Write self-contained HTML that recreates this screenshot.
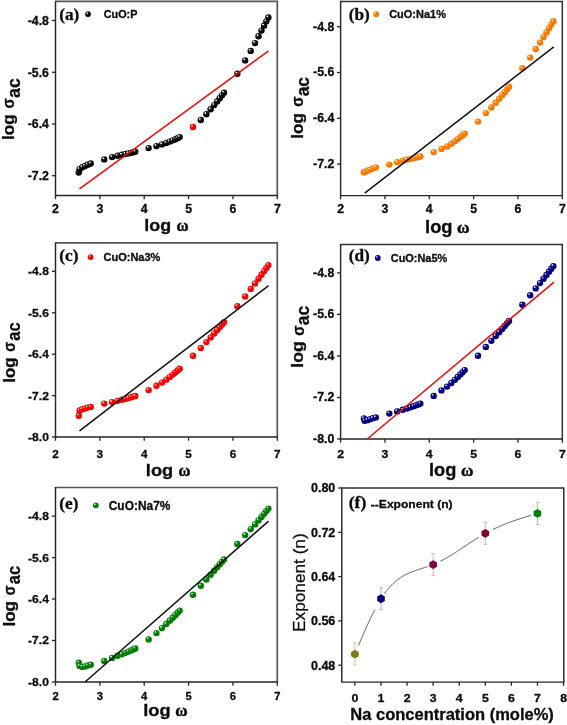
<!DOCTYPE html>
<html><head><meta charset="utf-8"><title>figure</title>
<style>
html,body{margin:0;padding:0;background:#fff;}
body{width:567px;height:725px;overflow:hidden;font-family:'Liberation Sans', sans-serif;}
svg{display:block;}
</style></head><body>
<svg width="567" height="725" viewBox="0 0 567 725">
<defs>
<filter id="soft" x="0" y="0" width="567" height="725" filterUnits="userSpaceOnUse" color-interpolation-filters="sRGB"><feGaussianBlur stdDeviation="0.38"/></filter>
<radialGradient id="gk" cx="0.36" cy="0.34" r="0.6" fx="0.34" fy="0.31"><stop offset="0" stop-color="#ffffff"/><stop offset="0.1" stop-color="#ffffff"/><stop offset="0.3" stop-color="#262626"/><stop offset="0.8" stop-color="#000000"/></radialGradient>
<radialGradient id="go" cx="0.36" cy="0.34" r="0.6" fx="0.34" fy="0.31"><stop offset="0" stop-color="#fff4e0"/><stop offset="0.1" stop-color="#fff4e0"/><stop offset="0.3" stop-color="#ff8408"/><stop offset="0.8" stop-color="#f87600"/></radialGradient>
<radialGradient id="gr" cx="0.36" cy="0.34" r="0.6" fx="0.34" fy="0.31"><stop offset="0" stop-color="#fff4f4"/><stop offset="0.1" stop-color="#fff4f4"/><stop offset="0.3" stop-color="#ff0c0c"/><stop offset="0.8" stop-color="#f40000"/></radialGradient>
<radialGradient id="gb" cx="0.36" cy="0.34" r="0.6" fx="0.34" fy="0.31"><stop offset="0" stop-color="#f0f0ff"/><stop offset="0.1" stop-color="#f0f0ff"/><stop offset="0.3" stop-color="#0a0a8c"/><stop offset="0.8" stop-color="#000078"/></radialGradient>
<radialGradient id="gg" cx="0.36" cy="0.34" r="0.6" fx="0.34" fy="0.31"><stop offset="0" stop-color="#f0fff0"/><stop offset="0.1" stop-color="#f0fff0"/><stop offset="0.3" stop-color="#0a8a0a"/><stop offset="0.8" stop-color="#007800"/></radialGradient>
</defs>
<rect width="567" height="725" fill="#fff"/>
<g filter="url(#soft)">
<path d="M55.5 1.4H277.3V195.5" fill="none" stroke="#565656" stroke-width="1.7"/>
<path d="M55.5 0.7999999999999999V195.5H278.0" fill="none" stroke="#262626" stroke-width="1.45"/>
<path d="M51.9 20.5H55.5" stroke="#262626" stroke-width="1.3"/>
<text transform="translate(48.90 24.90)" font-family="'Liberation Sans', sans-serif" font-weight="bold" font-size="12.3" text-anchor="end" fill="#0c0c0c" stroke="#0c0c0c" stroke-width="0.3" stroke-linejoin="round">-4.8</text>
<path d="M51.9 72.3H55.5" stroke="#262626" stroke-width="1.3"/>
<text transform="translate(48.90 76.70)" font-family="'Liberation Sans', sans-serif" font-weight="bold" font-size="12.3" text-anchor="end" fill="#0c0c0c" stroke="#0c0c0c" stroke-width="0.3" stroke-linejoin="round">-5.6</text>
<path d="M51.9 124.0H55.5" stroke="#262626" stroke-width="1.3"/>
<text transform="translate(48.90 128.40)" font-family="'Liberation Sans', sans-serif" font-weight="bold" font-size="12.3" text-anchor="end" fill="#0c0c0c" stroke="#0c0c0c" stroke-width="0.3" stroke-linejoin="round">-6.4</text>
<path d="M51.9 175.7H55.5" stroke="#262626" stroke-width="1.3"/>
<text transform="translate(48.90 180.10)" font-family="'Liberation Sans', sans-serif" font-weight="bold" font-size="12.3" text-anchor="end" fill="#0c0c0c" stroke="#0c0c0c" stroke-width="0.3" stroke-linejoin="round">-7.2</text>
<path d="M55.5 195.5V199.2" stroke="#262626" stroke-width="1.3"/>
<text transform="translate(55.50 212.70)" font-family="'Liberation Sans', sans-serif" font-weight="bold" font-size="12.3" text-anchor="middle" fill="#0c0c0c" stroke="#0c0c0c" stroke-width="0.3" stroke-linejoin="round">2</text>
<path d="M99.86 195.5V199.2" stroke="#262626" stroke-width="1.3"/>
<text transform="translate(99.86 212.70)" font-family="'Liberation Sans', sans-serif" font-weight="bold" font-size="12.3" text-anchor="middle" fill="#0c0c0c" stroke="#0c0c0c" stroke-width="0.3" stroke-linejoin="round">3</text>
<path d="M144.22 195.5V199.2" stroke="#262626" stroke-width="1.3"/>
<text transform="translate(144.22 212.70)" font-family="'Liberation Sans', sans-serif" font-weight="bold" font-size="12.3" text-anchor="middle" fill="#0c0c0c" stroke="#0c0c0c" stroke-width="0.3" stroke-linejoin="round">4</text>
<path d="M188.57999999999998 195.5V199.2" stroke="#262626" stroke-width="1.3"/>
<text transform="translate(188.58 212.70)" font-family="'Liberation Sans', sans-serif" font-weight="bold" font-size="12.3" text-anchor="middle" fill="#0c0c0c" stroke="#0c0c0c" stroke-width="0.3" stroke-linejoin="round">5</text>
<path d="M232.94 195.5V199.2" stroke="#262626" stroke-width="1.3"/>
<text transform="translate(232.94 212.70)" font-family="'Liberation Sans', sans-serif" font-weight="bold" font-size="12.3" text-anchor="middle" fill="#0c0c0c" stroke="#0c0c0c" stroke-width="0.3" stroke-linejoin="round">6</text>
<path d="M277.3 195.5V199.2" stroke="#262626" stroke-width="1.3"/>
<text transform="translate(277.30 212.70)" font-family="'Liberation Sans', sans-serif" font-weight="bold" font-size="12.3" text-anchor="middle" fill="#0c0c0c" stroke="#0c0c0c" stroke-width="0.3" stroke-linejoin="round">7</text>
<text transform="translate(144.27 230.90) scale(1.0648 1.0000)" font-family="'Liberation Sans', sans-serif" font-weight="bold" font-size="16.8" text-anchor="start" fill="#0c0c0c" stroke="#0c0c0c" stroke-width="0.3" stroke-linejoin="round">log</text>
<text transform="translate(176.54 231.10) scale(1.0054 1.0000)" font-family="'Liberation Serif', serif" font-weight="bold" font-size="16.5" text-anchor="start" fill="#0c0c0c" stroke="#0c0c0c" stroke-width="0.5" stroke-linejoin="round">ω</text>
<text transform="translate(13.50 139.99) rotate(-90) scale(1.0135 1.0000)" font-family="'Liberation Sans', sans-serif" font-weight="bold" font-size="17.0" text-anchor="start" fill="#0c0c0c" stroke="#0c0c0c" stroke-width="0.3" stroke-linejoin="round">log</text>
<text transform="translate(14.10 108.39) rotate(-90) scale(0.9197 1.0000)" font-family="'Liberation Sans', sans-serif" font-weight="bold" font-size="16.5" text-anchor="start" fill="#0c0c0c" stroke="#0c0c0c" stroke-width="0.3" stroke-linejoin="round">σ</text>
<text transform="translate(20.10 97.91) rotate(-90) scale(0.9288 1.0000)" font-family="'Liberation Sans', sans-serif" font-weight="bold" font-size="19.0" text-anchor="start" fill="#0c0c0c" stroke="#0c0c0c" stroke-width="0.3" stroke-linejoin="round">ac</text>
<circle cx="78.79" cy="172.50" r="3.2" fill="url(#gk)"/>
<circle cx="79.59" cy="169.20" r="3.2" fill="url(#gk)"/>
<circle cx="82.29" cy="167.30" r="3.2" fill="url(#gk)"/>
<circle cx="85.00" cy="166.00" r="3.2" fill="url(#gk)"/>
<circle cx="87.71" cy="164.70" r="3.2" fill="url(#gk)"/>
<circle cx="90.72" cy="163.50" r="3.2" fill="url(#gk)"/>
<circle cx="104.26" cy="159.40" r="3.2" fill="url(#gk)"/>
<circle cx="112.07" cy="157.10" r="3.2" fill="url(#gk)"/>
<circle cx="117.61" cy="155.75" r="3.2" fill="url(#gk)"/>
<circle cx="121.91" cy="154.80" r="3.2" fill="url(#gk)"/>
<circle cx="125.43" cy="154.04" r="3.2" fill="url(#gk)"/>
<circle cx="128.40" cy="153.40" r="3.2" fill="url(#gk)"/>
<circle cx="130.97" cy="152.83" r="3.2" fill="url(#gk)"/>
<circle cx="133.24" cy="152.30" r="3.2" fill="url(#gk)"/>
<circle cx="135.27" cy="151.80" r="3.2" fill="url(#gk)"/>
<circle cx="148.62" cy="148.10" r="3.2" fill="url(#gk)"/>
<circle cx="156.43" cy="146.10" r="3.2" fill="url(#gk)"/>
<circle cx="161.97" cy="144.38" r="3.2" fill="url(#gk)"/>
<circle cx="166.27" cy="142.91" r="3.2" fill="url(#gk)"/>
<circle cx="169.79" cy="141.59" r="3.2" fill="url(#gk)"/>
<circle cx="172.76" cy="140.37" r="3.2" fill="url(#gk)"/>
<circle cx="175.33" cy="139.23" r="3.2" fill="url(#gk)"/>
<circle cx="177.60" cy="138.14" r="3.2" fill="url(#gk)"/>
<circle cx="179.63" cy="137.10" r="3.2" fill="url(#gk)"/>
<circle cx="192.98" cy="127.00" r="3.2" fill="url(#gr)"/>
<circle cx="200.79" cy="120.00" r="3.2" fill="url(#gk)"/>
<circle cx="206.33" cy="114.18" r="3.2" fill="url(#gk)"/>
<circle cx="210.63" cy="109.30" r="3.2" fill="url(#gk)"/>
<circle cx="214.15" cy="105.12" r="3.2" fill="url(#gk)"/>
<circle cx="217.12" cy="101.46" r="3.2" fill="url(#gk)"/>
<circle cx="219.69" cy="98.23" r="3.2" fill="url(#gk)"/>
<circle cx="221.96" cy="95.33" r="3.2" fill="url(#gk)"/>
<circle cx="223.99" cy="92.70" r="3.2" fill="url(#gk)"/>
<circle cx="237.34" cy="73.70" r="3.2" fill="url(#gk)"/>
<circle cx="245.15" cy="60.40" r="3.2" fill="url(#gk)"/>
<circle cx="250.69" cy="50.90" r="3.2" fill="url(#gk)"/>
<circle cx="254.99" cy="43.10" r="3.2" fill="url(#gk)"/>
<circle cx="258.51" cy="36.30" r="3.2" fill="url(#gk)"/>
<circle cx="261.48" cy="30.59" r="3.2" fill="url(#gk)"/>
<circle cx="264.05" cy="25.67" r="3.2" fill="url(#gk)"/>
<circle cx="266.32" cy="21.35" r="3.2" fill="url(#gk)"/>
<circle cx="268.35" cy="17.50" r="3.2" fill="url(#gk)"/>
<path d="M79.5 188.9L268.5 50.8" stroke="#f80606" stroke-width="1.5" fill="none"/>
<text transform="translate(59.26 19.60) scale(1.0566 1.0000)" font-family="'Liberation Serif', serif" font-weight="bold" font-size="16.3" text-anchor="start" fill="#0c0c0c" stroke="#0c0c0c" stroke-width="0.3" stroke-linejoin="round">(a)</text>
<circle cx="88.0" cy="14.1" r="2.9" fill="url(#gk)"/>
<text transform="translate(103.76 18.20) scale(1.0128 1.0000)" font-family="'Liberation Sans', sans-serif" font-weight="bold" font-size="10.7" text-anchor="start" fill="#0c0c0c" stroke="#0c0c0c" stroke-width="0.3" stroke-linejoin="round">CuO:P</text>
<path d="M340.6 1.4H562.3V195.6" fill="none" stroke="#303030" stroke-width="1.5"/>
<path d="M340.6 0.7999999999999999V195.6H563.0" fill="none" stroke="#262626" stroke-width="1.45"/>
<path d="M337.00000000000006 26.7H340.6" stroke="#262626" stroke-width="1.3"/>
<text transform="translate(334.30 30.60)" font-family="'Liberation Sans', sans-serif" font-weight="bold" font-size="12.3" text-anchor="end" fill="#0c0c0c" stroke="#0c0c0c" stroke-width="0.3" stroke-linejoin="round">-4.8</text>
<path d="M337.00000000000006 72.5H340.6" stroke="#262626" stroke-width="1.3"/>
<text transform="translate(334.30 76.40)" font-family="'Liberation Sans', sans-serif" font-weight="bold" font-size="12.3" text-anchor="end" fill="#0c0c0c" stroke="#0c0c0c" stroke-width="0.3" stroke-linejoin="round">-5.6</text>
<path d="M337.00000000000006 118.3H340.6" stroke="#262626" stroke-width="1.3"/>
<text transform="translate(334.30 122.20)" font-family="'Liberation Sans', sans-serif" font-weight="bold" font-size="12.3" text-anchor="end" fill="#0c0c0c" stroke="#0c0c0c" stroke-width="0.3" stroke-linejoin="round">-6.4</text>
<path d="M337.00000000000006 164.1H340.6" stroke="#262626" stroke-width="1.3"/>
<text transform="translate(334.30 168.00)" font-family="'Liberation Sans', sans-serif" font-weight="bold" font-size="12.3" text-anchor="end" fill="#0c0c0c" stroke="#0c0c0c" stroke-width="0.3" stroke-linejoin="round">-7.2</text>
<path d="M340.6 195.6V199.29999999999998" stroke="#262626" stroke-width="1.3"/>
<text transform="translate(340.60 212.70)" font-family="'Liberation Sans', sans-serif" font-weight="bold" font-size="12.3" text-anchor="middle" fill="#0c0c0c" stroke="#0c0c0c" stroke-width="0.3" stroke-linejoin="round">2</text>
<path d="M384.94 195.6V199.29999999999998" stroke="#262626" stroke-width="1.3"/>
<text transform="translate(384.94 212.70)" font-family="'Liberation Sans', sans-serif" font-weight="bold" font-size="12.3" text-anchor="middle" fill="#0c0c0c" stroke="#0c0c0c" stroke-width="0.3" stroke-linejoin="round">3</text>
<path d="M429.28 195.6V199.29999999999998" stroke="#262626" stroke-width="1.3"/>
<text transform="translate(429.28 212.70)" font-family="'Liberation Sans', sans-serif" font-weight="bold" font-size="12.3" text-anchor="middle" fill="#0c0c0c" stroke="#0c0c0c" stroke-width="0.3" stroke-linejoin="round">4</text>
<path d="M473.62 195.6V199.29999999999998" stroke="#262626" stroke-width="1.3"/>
<text transform="translate(473.62 212.70)" font-family="'Liberation Sans', sans-serif" font-weight="bold" font-size="12.3" text-anchor="middle" fill="#0c0c0c" stroke="#0c0c0c" stroke-width="0.3" stroke-linejoin="round">5</text>
<path d="M517.96 195.6V199.29999999999998" stroke="#262626" stroke-width="1.3"/>
<text transform="translate(517.96 212.70)" font-family="'Liberation Sans', sans-serif" font-weight="bold" font-size="12.3" text-anchor="middle" fill="#0c0c0c" stroke="#0c0c0c" stroke-width="0.3" stroke-linejoin="round">6</text>
<path d="M562.3 195.6V199.29999999999998" stroke="#262626" stroke-width="1.3"/>
<text transform="translate(562.30 212.70)" font-family="'Liberation Sans', sans-serif" font-weight="bold" font-size="12.3" text-anchor="middle" fill="#0c0c0c" stroke="#0c0c0c" stroke-width="0.3" stroke-linejoin="round">7</text>
<text transform="translate(425.04 232.80) scale(1.0414 1.0000)" font-family="'Liberation Sans', sans-serif" font-weight="bold" font-size="17.6" text-anchor="start" fill="#0c0c0c" stroke="#0c0c0c" stroke-width="0.3" stroke-linejoin="round">log</text>
<text transform="translate(457.11 233.00) scale(1.0427 1.0000)" font-family="'Liberation Serif', serif" font-weight="bold" font-size="16.5" text-anchor="start" fill="#0c0c0c" stroke="#0c0c0c" stroke-width="0.5" stroke-linejoin="round">ω</text>
<text transform="translate(302.80 138.79) rotate(-90) scale(1.0017 1.0000)" font-family="'Liberation Sans', sans-serif" font-weight="bold" font-size="17.2" text-anchor="start" fill="#0c0c0c" stroke="#0c0c0c" stroke-width="0.3" stroke-linejoin="round">log</text>
<text transform="translate(303.20 106.79) rotate(-90) scale(0.9197 1.0000)" font-family="'Liberation Sans', sans-serif" font-weight="bold" font-size="16.5" text-anchor="start" fill="#0c0c0c" stroke="#0c0c0c" stroke-width="0.3" stroke-linejoin="round">σ</text>
<text transform="translate(308.90 96.30) rotate(-90) scale(0.9385 1.0000)" font-family="'Liberation Sans', sans-serif" font-weight="bold" font-size="18.5" text-anchor="start" fill="#0c0c0c" stroke="#0c0c0c" stroke-width="0.3" stroke-linejoin="round">ac</text>
<circle cx="363.88" cy="172.40" r="3.2" fill="url(#go)"/>
<circle cx="364.68" cy="171.90" r="3.2" fill="url(#go)"/>
<circle cx="367.38" cy="170.70" r="3.2" fill="url(#go)"/>
<circle cx="370.09" cy="169.60" r="3.2" fill="url(#go)"/>
<circle cx="372.79" cy="168.50" r="3.2" fill="url(#go)"/>
<circle cx="375.81" cy="167.40" r="3.2" fill="url(#go)"/>
<circle cx="389.34" cy="164.60" r="3.2" fill="url(#go)"/>
<circle cx="397.15" cy="162.10" r="3.2" fill="url(#go)"/>
<circle cx="402.69" cy="160.65" r="3.2" fill="url(#go)"/>
<circle cx="406.98" cy="159.64" r="3.2" fill="url(#go)"/>
<circle cx="410.49" cy="158.84" r="3.2" fill="url(#go)"/>
<circle cx="413.46" cy="158.16" r="3.2" fill="url(#go)"/>
<circle cx="416.03" cy="157.54" r="3.2" fill="url(#go)"/>
<circle cx="418.30" cy="156.95" r="3.2" fill="url(#go)"/>
<circle cx="420.33" cy="156.40" r="3.2" fill="url(#go)"/>
<circle cx="433.68" cy="152.10" r="3.2" fill="url(#go)"/>
<circle cx="441.49" cy="148.90" r="3.2" fill="url(#go)"/>
<circle cx="447.03" cy="146.40" r="3.2" fill="url(#go)"/>
<circle cx="451.32" cy="143.82" r="3.2" fill="url(#go)"/>
<circle cx="454.83" cy="141.36" r="3.2" fill="url(#go)"/>
<circle cx="457.80" cy="139.10" r="3.2" fill="url(#go)"/>
<circle cx="460.37" cy="137.07" r="3.2" fill="url(#go)"/>
<circle cx="462.64" cy="135.24" r="3.2" fill="url(#go)"/>
<circle cx="464.67" cy="133.60" r="3.2" fill="url(#go)"/>
<circle cx="478.02" cy="121.60" r="3.2" fill="url(#go)"/>
<circle cx="485.83" cy="113.10" r="3.2" fill="url(#go)"/>
<circle cx="491.37" cy="107.50" r="3.2" fill="url(#go)"/>
<circle cx="495.66" cy="102.79" r="3.2" fill="url(#go)"/>
<circle cx="499.17" cy="98.79" r="3.2" fill="url(#go)"/>
<circle cx="502.14" cy="95.29" r="3.2" fill="url(#go)"/>
<circle cx="504.71" cy="92.18" r="3.2" fill="url(#go)"/>
<circle cx="506.98" cy="89.37" r="3.2" fill="url(#go)"/>
<circle cx="509.01" cy="86.80" r="3.2" fill="url(#go)"/>
<circle cx="522.36" cy="68.20" r="3.2" fill="url(#go)"/>
<circle cx="530.17" cy="57.60" r="3.2" fill="url(#go)"/>
<circle cx="535.71" cy="48.90" r="3.2" fill="url(#go)"/>
<circle cx="540.00" cy="42.60" r="3.2" fill="url(#go)"/>
<circle cx="543.51" cy="37.10" r="3.2" fill="url(#go)"/>
<circle cx="546.48" cy="32.38" r="3.2" fill="url(#go)"/>
<circle cx="549.05" cy="28.27" r="3.2" fill="url(#go)"/>
<circle cx="551.32" cy="24.60" r="3.2" fill="url(#go)"/>
<circle cx="553.35" cy="21.30" r="3.2" fill="url(#go)"/>
<path d="M364.7 193.2L553.8 46.9" stroke="#111111" stroke-width="1.5" fill="none"/>
<text transform="translate(348.76 19.50) scale(1.0585 1.0000)" font-family="'Liberation Serif', serif" font-weight="bold" font-size="16.3" text-anchor="start" fill="#0c0c0c" stroke="#0c0c0c" stroke-width="0.3" stroke-linejoin="round">(b)</text>
<circle cx="376.2" cy="14.2" r="2.9" fill="url(#go)"/>
<text transform="translate(389.15 17.90) scale(1.0185 1.0000)" font-family="'Liberation Sans', sans-serif" font-weight="bold" font-size="10.8" text-anchor="start" fill="#0c0c0c" stroke="#0c0c0c" stroke-width="0.3" stroke-linejoin="round">CuO:Na1%</text>
<path d="M55.5 242.9H277.3V437.0" fill="none" stroke="#565656" stroke-width="1.7"/>
<path d="M55.5 242.3V437.0H278.0" fill="none" stroke="#262626" stroke-width="1.45"/>
<path d="M51.9 271.3H55.5" stroke="#262626" stroke-width="1.3"/>
<text transform="translate(48.90 275.29) scale(1.0000 0.9200)" font-family="'Liberation Sans', sans-serif" font-weight="bold" font-size="12.1" text-anchor="end" fill="#0c0c0c" stroke="#0c0c0c" stroke-width="0.3" stroke-linejoin="round">-4.8</text>
<path d="M51.9 312.8H55.5" stroke="#262626" stroke-width="1.3"/>
<text transform="translate(48.90 316.79) scale(1.0000 0.9200)" font-family="'Liberation Sans', sans-serif" font-weight="bold" font-size="12.1" text-anchor="end" fill="#0c0c0c" stroke="#0c0c0c" stroke-width="0.3" stroke-linejoin="round">-5.6</text>
<path d="M51.9 354.2H55.5" stroke="#262626" stroke-width="1.3"/>
<text transform="translate(48.90 358.19) scale(1.0000 0.9200)" font-family="'Liberation Sans', sans-serif" font-weight="bold" font-size="12.1" text-anchor="end" fill="#0c0c0c" stroke="#0c0c0c" stroke-width="0.3" stroke-linejoin="round">-6.4</text>
<path d="M51.9 395.6H55.5" stroke="#262626" stroke-width="1.3"/>
<text transform="translate(48.90 399.59) scale(1.0000 0.9200)" font-family="'Liberation Sans', sans-serif" font-weight="bold" font-size="12.1" text-anchor="end" fill="#0c0c0c" stroke="#0c0c0c" stroke-width="0.3" stroke-linejoin="round">-7.2</text>
<path d="M51.9 437.0H55.5" stroke="#262626" stroke-width="1.3"/>
<text transform="translate(48.90 440.99) scale(1.0000 0.9200)" font-family="'Liberation Sans', sans-serif" font-weight="bold" font-size="12.1" text-anchor="end" fill="#0c0c0c" stroke="#0c0c0c" stroke-width="0.3" stroke-linejoin="round">-8.0</text>
<path d="M55.5 437.0V440.7" stroke="#262626" stroke-width="1.3"/>
<text transform="translate(55.50 458.00) scale(1.0000 0.9500)" font-family="'Liberation Sans', sans-serif" font-weight="bold" font-size="11.7" text-anchor="middle" fill="#0c0c0c" stroke="#0c0c0c" stroke-width="0.3" stroke-linejoin="round">2</text>
<path d="M99.86 437.0V440.7" stroke="#262626" stroke-width="1.3"/>
<text transform="translate(99.86 458.00) scale(1.0000 0.9500)" font-family="'Liberation Sans', sans-serif" font-weight="bold" font-size="11.7" text-anchor="middle" fill="#0c0c0c" stroke="#0c0c0c" stroke-width="0.3" stroke-linejoin="round">3</text>
<path d="M144.22 437.0V440.7" stroke="#262626" stroke-width="1.3"/>
<text transform="translate(144.22 458.00) scale(1.0000 0.9500)" font-family="'Liberation Sans', sans-serif" font-weight="bold" font-size="11.7" text-anchor="middle" fill="#0c0c0c" stroke="#0c0c0c" stroke-width="0.3" stroke-linejoin="round">4</text>
<path d="M188.57999999999998 437.0V440.7" stroke="#262626" stroke-width="1.3"/>
<text transform="translate(188.58 458.00) scale(1.0000 0.9500)" font-family="'Liberation Sans', sans-serif" font-weight="bold" font-size="11.7" text-anchor="middle" fill="#0c0c0c" stroke="#0c0c0c" stroke-width="0.3" stroke-linejoin="round">5</text>
<path d="M232.94 437.0V440.7" stroke="#262626" stroke-width="1.3"/>
<text transform="translate(232.94 458.00) scale(1.0000 0.9500)" font-family="'Liberation Sans', sans-serif" font-weight="bold" font-size="11.7" text-anchor="middle" fill="#0c0c0c" stroke="#0c0c0c" stroke-width="0.3" stroke-linejoin="round">6</text>
<path d="M277.3 437.0V440.7" stroke="#262626" stroke-width="1.3"/>
<text transform="translate(277.30 458.00) scale(1.0000 0.9500)" font-family="'Liberation Sans', sans-serif" font-weight="bold" font-size="11.7" text-anchor="middle" fill="#0c0c0c" stroke="#0c0c0c" stroke-width="0.3" stroke-linejoin="round">7</text>
<text transform="translate(145.84 475.60) scale(1.0676 1.0000)" font-family="'Liberation Sans', sans-serif" font-weight="bold" font-size="17.1" text-anchor="start" fill="#0c0c0c" stroke="#0c0c0c" stroke-width="0.3" stroke-linejoin="round">log</text>
<text transform="translate(178.44 475.70) scale(0.9961 1.0000)" font-family="'Liberation Serif', serif" font-weight="bold" font-size="16.5" text-anchor="start" fill="#0c0c0c" stroke="#0c0c0c" stroke-width="0.5" stroke-linejoin="round">ω</text>
<text transform="translate(14.50 382.77) rotate(-90) scale(0.9962 1.0000)" font-family="'Liberation Sans', sans-serif" font-weight="bold" font-size="17.0" text-anchor="start" fill="#0c0c0c" stroke="#0c0c0c" stroke-width="0.3" stroke-linejoin="round">log</text>
<text transform="translate(15.00 351.66) rotate(-90) scale(0.8986 1.0000)" font-family="'Liberation Sans', sans-serif" font-weight="bold" font-size="16.0" text-anchor="start" fill="#0c0c0c" stroke="#0c0c0c" stroke-width="0.3" stroke-linejoin="round">σ</text>
<text transform="translate(20.20 340.78) rotate(-90) scale(0.9021 1.0000)" font-family="'Liberation Sans', sans-serif" font-weight="bold" font-size="18.3" text-anchor="start" fill="#0c0c0c" stroke="#0c0c0c" stroke-width="0.3" stroke-linejoin="round">ac</text>
<circle cx="78.79" cy="415.70" r="3.2" fill="url(#gr)"/>
<circle cx="79.59" cy="410.50" r="3.2" fill="url(#gr)"/>
<circle cx="82.29" cy="409.30" r="3.2" fill="url(#gr)"/>
<circle cx="85.00" cy="408.40" r="3.2" fill="url(#gr)"/>
<circle cx="87.71" cy="407.60" r="3.2" fill="url(#gr)"/>
<circle cx="90.72" cy="406.90" r="3.2" fill="url(#gr)"/>
<circle cx="104.26" cy="403.60" r="3.2" fill="url(#gr)"/>
<circle cx="112.07" cy="402.10" r="3.2" fill="url(#gr)"/>
<circle cx="117.61" cy="400.85" r="3.2" fill="url(#gr)"/>
<circle cx="121.91" cy="399.80" r="3.2" fill="url(#gr)"/>
<circle cx="125.43" cy="398.88" r="3.2" fill="url(#gr)"/>
<circle cx="128.40" cy="398.05" r="3.2" fill="url(#gr)"/>
<circle cx="130.97" cy="397.28" r="3.2" fill="url(#gr)"/>
<circle cx="133.24" cy="396.57" r="3.2" fill="url(#gr)"/>
<circle cx="135.27" cy="395.90" r="3.2" fill="url(#gr)"/>
<circle cx="148.62" cy="390.10" r="3.2" fill="url(#gr)"/>
<circle cx="156.43" cy="385.80" r="3.2" fill="url(#gr)"/>
<circle cx="161.97" cy="382.60" r="3.2" fill="url(#gr)"/>
<circle cx="166.27" cy="379.64" r="3.2" fill="url(#gr)"/>
<circle cx="169.79" cy="376.99" r="3.2" fill="url(#gr)"/>
<circle cx="172.76" cy="374.62" r="3.2" fill="url(#gr)"/>
<circle cx="175.33" cy="372.49" r="3.2" fill="url(#gr)"/>
<circle cx="177.60" cy="370.56" r="3.2" fill="url(#gr)"/>
<circle cx="179.63" cy="368.80" r="3.2" fill="url(#gr)"/>
<circle cx="192.98" cy="355.80" r="3.2" fill="url(#gr)"/>
<circle cx="200.79" cy="348.00" r="3.2" fill="url(#gr)"/>
<circle cx="206.33" cy="342.10" r="3.2" fill="url(#gr)"/>
<circle cx="210.63" cy="337.39" r="3.2" fill="url(#gr)"/>
<circle cx="214.15" cy="333.46" r="3.2" fill="url(#gr)"/>
<circle cx="217.12" cy="330.10" r="3.2" fill="url(#gr)"/>
<circle cx="219.69" cy="327.16" r="3.2" fill="url(#gr)"/>
<circle cx="221.96" cy="324.55" r="3.2" fill="url(#gr)"/>
<circle cx="223.99" cy="322.20" r="3.2" fill="url(#gr)"/>
<circle cx="237.34" cy="306.20" r="3.2" fill="url(#gr)"/>
<circle cx="245.15" cy="296.40" r="3.2" fill="url(#gr)"/>
<circle cx="250.69" cy="288.90" r="3.2" fill="url(#gr)"/>
<circle cx="254.99" cy="283.40" r="3.2" fill="url(#gr)"/>
<circle cx="258.51" cy="278.74" r="3.2" fill="url(#gr)"/>
<circle cx="261.48" cy="274.72" r="3.2" fill="url(#gr)"/>
<circle cx="264.05" cy="271.18" r="3.2" fill="url(#gr)"/>
<circle cx="266.32" cy="268.00" r="3.2" fill="url(#gr)"/>
<circle cx="268.35" cy="265.10" r="3.2" fill="url(#gr)"/>
<path d="M79.5 430.9L268.6 285.6" stroke="#111111" stroke-width="1.5" fill="none"/>
<text transform="translate(59.26 261.10) scale(1.0604 1.0000)" font-family="'Liberation Serif', serif" font-weight="bold" font-size="16.3" text-anchor="start" fill="#0c0c0c" stroke="#0c0c0c" stroke-width="0.3" stroke-linejoin="round">(c)</text>
<circle cx="90.6" cy="257.1" r="2.9" fill="url(#gr)"/>
<text transform="translate(103.45 261.00) scale(1.0221 1.0000)" font-family="'Liberation Sans', sans-serif" font-weight="bold" font-size="10.8" text-anchor="start" fill="#0c0c0c" stroke="#0c0c0c" stroke-width="0.3" stroke-linejoin="round">CuO:Na3%</text>
<path d="M340.6 244.5H562.3V439.0" fill="none" stroke="#303030" stroke-width="1.5"/>
<path d="M340.6 243.9V439.0H563.0" fill="none" stroke="#262626" stroke-width="1.45"/>
<path d="M337.00000000000006 272.9H340.6" stroke="#262626" stroke-width="1.3"/>
<text transform="translate(334.30 276.80)" font-family="'Liberation Sans', sans-serif" font-weight="bold" font-size="12.3" text-anchor="end" fill="#0c0c0c" stroke="#0c0c0c" stroke-width="0.3" stroke-linejoin="round">-4.8</text>
<path d="M337.00000000000006 314.4H340.6" stroke="#262626" stroke-width="1.3"/>
<text transform="translate(334.30 318.30)" font-family="'Liberation Sans', sans-serif" font-weight="bold" font-size="12.3" text-anchor="end" fill="#0c0c0c" stroke="#0c0c0c" stroke-width="0.3" stroke-linejoin="round">-5.6</text>
<path d="M337.00000000000006 356.0H340.6" stroke="#262626" stroke-width="1.3"/>
<text transform="translate(334.30 359.90)" font-family="'Liberation Sans', sans-serif" font-weight="bold" font-size="12.3" text-anchor="end" fill="#0c0c0c" stroke="#0c0c0c" stroke-width="0.3" stroke-linejoin="round">-6.4</text>
<path d="M337.00000000000006 397.5H340.6" stroke="#262626" stroke-width="1.3"/>
<text transform="translate(334.30 401.40)" font-family="'Liberation Sans', sans-serif" font-weight="bold" font-size="12.3" text-anchor="end" fill="#0c0c0c" stroke="#0c0c0c" stroke-width="0.3" stroke-linejoin="round">-7.2</text>
<path d="M337.00000000000006 439.0H340.6" stroke="#262626" stroke-width="1.3"/>
<text transform="translate(334.30 442.90)" font-family="'Liberation Sans', sans-serif" font-weight="bold" font-size="12.3" text-anchor="end" fill="#0c0c0c" stroke="#0c0c0c" stroke-width="0.3" stroke-linejoin="round">-8.0</text>
<path d="M340.6 439.0V442.7" stroke="#262626" stroke-width="1.3"/>
<text transform="translate(340.60 458.00) scale(1.0000 0.9600)" font-family="'Liberation Sans', sans-serif" font-weight="bold" font-size="12.3" text-anchor="middle" fill="#0c0c0c" stroke="#0c0c0c" stroke-width="0.3" stroke-linejoin="round">2</text>
<path d="M384.94 439.0V442.7" stroke="#262626" stroke-width="1.3"/>
<text transform="translate(384.94 458.00) scale(1.0000 0.9600)" font-family="'Liberation Sans', sans-serif" font-weight="bold" font-size="12.3" text-anchor="middle" fill="#0c0c0c" stroke="#0c0c0c" stroke-width="0.3" stroke-linejoin="round">3</text>
<path d="M429.28 439.0V442.7" stroke="#262626" stroke-width="1.3"/>
<text transform="translate(429.28 458.00) scale(1.0000 0.9600)" font-family="'Liberation Sans', sans-serif" font-weight="bold" font-size="12.3" text-anchor="middle" fill="#0c0c0c" stroke="#0c0c0c" stroke-width="0.3" stroke-linejoin="round">4</text>
<path d="M473.62 439.0V442.7" stroke="#262626" stroke-width="1.3"/>
<text transform="translate(473.62 458.00) scale(1.0000 0.9600)" font-family="'Liberation Sans', sans-serif" font-weight="bold" font-size="12.3" text-anchor="middle" fill="#0c0c0c" stroke="#0c0c0c" stroke-width="0.3" stroke-linejoin="round">5</text>
<path d="M517.96 439.0V442.7" stroke="#262626" stroke-width="1.3"/>
<text transform="translate(517.96 458.00) scale(1.0000 0.9600)" font-family="'Liberation Sans', sans-serif" font-weight="bold" font-size="12.3" text-anchor="middle" fill="#0c0c0c" stroke="#0c0c0c" stroke-width="0.3" stroke-linejoin="round">6</text>
<path d="M562.3 439.0V442.7" stroke="#262626" stroke-width="1.3"/>
<text transform="translate(562.30 458.00) scale(1.0000 0.9600)" font-family="'Liberation Sans', sans-serif" font-weight="bold" font-size="12.3" text-anchor="middle" fill="#0c0c0c" stroke="#0c0c0c" stroke-width="0.3" stroke-linejoin="round">7</text>
<text transform="translate(429.04 476.10) scale(1.0432 1.0000)" font-family="'Liberation Sans', sans-serif" font-weight="bold" font-size="17.5" text-anchor="start" fill="#0c0c0c" stroke="#0c0c0c" stroke-width="0.3" stroke-linejoin="round">log</text>
<text transform="translate(461.02 476.40) scale(1.0241 1.0000)" font-family="'Liberation Serif', serif" font-weight="bold" font-size="16.5" text-anchor="start" fill="#0c0c0c" stroke="#0c0c0c" stroke-width="0.5" stroke-linejoin="round">ω</text>
<text transform="translate(302.80 367.71) rotate(-90) scale(1.0230 1.0000)" font-family="'Liberation Sans', sans-serif" font-weight="bold" font-size="17.2" text-anchor="start" fill="#0c0c0c" stroke="#0c0c0c" stroke-width="0.3" stroke-linejoin="round">log</text>
<text transform="translate(303.70 335.69) rotate(-90) scale(0.9101 1.0000)" font-family="'Liberation Sans', sans-serif" font-weight="bold" font-size="16.5" text-anchor="start" fill="#0c0c0c" stroke="#0c0c0c" stroke-width="0.3" stroke-linejoin="round">σ</text>
<text transform="translate(309.30 325.31) rotate(-90) scale(0.9436 1.0000)" font-family="'Liberation Sans', sans-serif" font-weight="bold" font-size="18.5" text-anchor="start" fill="#0c0c0c" stroke="#0c0c0c" stroke-width="0.3" stroke-linejoin="round">ac</text>
<circle cx="363.88" cy="418.40" r="3.2" fill="url(#gb)"/>
<circle cx="364.68" cy="420.70" r="3.2" fill="url(#gb)"/>
<circle cx="367.38" cy="420.17" r="3.2" fill="url(#gb)"/>
<circle cx="370.09" cy="419.16" r="3.2" fill="url(#gb)"/>
<circle cx="372.79" cy="418.16" r="3.2" fill="url(#gb)"/>
<circle cx="375.81" cy="417.40" r="3.2" fill="url(#gb)"/>
<circle cx="389.34" cy="413.60" r="3.2" fill="url(#gb)"/>
<circle cx="397.15" cy="411.40" r="3.2" fill="url(#gb)"/>
<circle cx="402.69" cy="409.75" r="3.2" fill="url(#gb)"/>
<circle cx="406.98" cy="408.44" r="3.2" fill="url(#gb)"/>
<circle cx="410.49" cy="407.31" r="3.2" fill="url(#gb)"/>
<circle cx="413.46" cy="406.30" r="3.2" fill="url(#gb)"/>
<circle cx="416.03" cy="405.35" r="3.2" fill="url(#gb)"/>
<circle cx="418.30" cy="404.46" r="3.2" fill="url(#gb)"/>
<circle cx="420.33" cy="403.60" r="3.2" fill="url(#gb)"/>
<circle cx="433.68" cy="395.90" r="3.2" fill="url(#gb)"/>
<circle cx="441.49" cy="390.40" r="3.2" fill="url(#gb)"/>
<circle cx="447.03" cy="386.60" r="3.2" fill="url(#gb)"/>
<circle cx="451.32" cy="383.04" r="3.2" fill="url(#gb)"/>
<circle cx="454.83" cy="379.83" r="3.2" fill="url(#gb)"/>
<circle cx="457.80" cy="376.96" r="3.2" fill="url(#gb)"/>
<circle cx="460.37" cy="374.41" r="3.2" fill="url(#gb)"/>
<circle cx="462.64" cy="372.14" r="3.2" fill="url(#gb)"/>
<circle cx="464.67" cy="370.10" r="3.2" fill="url(#gb)"/>
<circle cx="478.02" cy="355.80" r="3.2" fill="url(#gb)"/>
<circle cx="485.83" cy="347.00" r="3.2" fill="url(#gb)"/>
<circle cx="491.37" cy="340.83" r="3.2" fill="url(#gb)"/>
<circle cx="495.66" cy="336.08" r="3.2" fill="url(#gb)"/>
<circle cx="499.17" cy="332.19" r="3.2" fill="url(#gb)"/>
<circle cx="502.14" cy="328.88" r="3.2" fill="url(#gb)"/>
<circle cx="504.71" cy="325.97" r="3.2" fill="url(#gb)"/>
<circle cx="506.98" cy="323.36" r="3.2" fill="url(#gb)"/>
<circle cx="509.01" cy="321.00" r="3.2" fill="url(#gb)"/>
<circle cx="522.36" cy="304.70" r="3.2" fill="url(#gb)"/>
<circle cx="530.17" cy="295.20" r="3.2" fill="url(#gb)"/>
<circle cx="535.71" cy="288.40" r="3.2" fill="url(#gb)"/>
<circle cx="540.00" cy="283.10" r="3.2" fill="url(#gb)"/>
<circle cx="543.51" cy="278.69" r="3.2" fill="url(#gb)"/>
<circle cx="546.48" cy="274.94" r="3.2" fill="url(#gb)"/>
<circle cx="549.05" cy="271.66" r="3.2" fill="url(#gb)"/>
<circle cx="551.32" cy="268.73" r="3.2" fill="url(#gb)"/>
<circle cx="553.35" cy="266.10" r="3.2" fill="url(#gb)"/>
<path d="M367.2 439.0L554.0 282.1" stroke="#f80606" stroke-width="1.5" fill="none"/>
<text transform="translate(348.76 260.70) scale(1.0585 1.0000)" font-family="'Liberation Serif', serif" font-weight="bold" font-size="16.3" text-anchor="start" fill="#0c0c0c" stroke="#0c0c0c" stroke-width="0.3" stroke-linejoin="round">(d)</text>
<circle cx="377.8" cy="258.0" r="2.9" fill="url(#gb)"/>
<text transform="translate(390.75 261.70) scale(1.0131 1.0000)" font-family="'Liberation Sans', sans-serif" font-weight="bold" font-size="10.8" text-anchor="start" fill="#0c0c0c" stroke="#0c0c0c" stroke-width="0.3" stroke-linejoin="round">CuO:Na5%</text>
<path d="M55.5 487.5H277.3V682.0" fill="none" stroke="#565656" stroke-width="1.7"/>
<path d="M55.5 486.9V682.0H278.0" fill="none" stroke="#262626" stroke-width="1.45"/>
<path d="M51.9 516.1H55.5" stroke="#262626" stroke-width="1.3"/>
<text transform="translate(48.90 520.09) scale(1.0000 0.9200)" font-family="'Liberation Sans', sans-serif" font-weight="bold" font-size="12.1" text-anchor="end" fill="#0c0c0c" stroke="#0c0c0c" stroke-width="0.3" stroke-linejoin="round">-4.8</text>
<path d="M51.9 557.6H55.5" stroke="#262626" stroke-width="1.3"/>
<text transform="translate(48.90 561.59) scale(1.0000 0.9200)" font-family="'Liberation Sans', sans-serif" font-weight="bold" font-size="12.1" text-anchor="end" fill="#0c0c0c" stroke="#0c0c0c" stroke-width="0.3" stroke-linejoin="round">-5.6</text>
<path d="M51.9 599.0H55.5" stroke="#262626" stroke-width="1.3"/>
<text transform="translate(48.90 602.99) scale(1.0000 0.9200)" font-family="'Liberation Sans', sans-serif" font-weight="bold" font-size="12.1" text-anchor="end" fill="#0c0c0c" stroke="#0c0c0c" stroke-width="0.3" stroke-linejoin="round">-6.4</text>
<path d="M51.9 640.5H55.5" stroke="#262626" stroke-width="1.3"/>
<text transform="translate(48.90 644.49) scale(1.0000 0.9200)" font-family="'Liberation Sans', sans-serif" font-weight="bold" font-size="12.1" text-anchor="end" fill="#0c0c0c" stroke="#0c0c0c" stroke-width="0.3" stroke-linejoin="round">-7.2</text>
<path d="M51.9 682.0H55.5" stroke="#262626" stroke-width="1.3"/>
<text transform="translate(48.90 685.99) scale(1.0000 0.9200)" font-family="'Liberation Sans', sans-serif" font-weight="bold" font-size="12.1" text-anchor="end" fill="#0c0c0c" stroke="#0c0c0c" stroke-width="0.3" stroke-linejoin="round">-8.0</text>
<path d="M55.5 682.0V685.7" stroke="#262626" stroke-width="1.3"/>
<text transform="translate(55.50 699.60) scale(1.0000 0.9800)" font-family="'Liberation Sans', sans-serif" font-weight="bold" font-size="11.2" text-anchor="middle" fill="#0c0c0c" stroke="#0c0c0c" stroke-width="0.3" stroke-linejoin="round">2</text>
<path d="M99.86 682.0V685.7" stroke="#262626" stroke-width="1.3"/>
<text transform="translate(99.86 699.60) scale(1.0000 0.9800)" font-family="'Liberation Sans', sans-serif" font-weight="bold" font-size="11.2" text-anchor="middle" fill="#0c0c0c" stroke="#0c0c0c" stroke-width="0.3" stroke-linejoin="round">3</text>
<path d="M144.22 682.0V685.7" stroke="#262626" stroke-width="1.3"/>
<text transform="translate(144.22 699.60) scale(1.0000 0.9800)" font-family="'Liberation Sans', sans-serif" font-weight="bold" font-size="11.2" text-anchor="middle" fill="#0c0c0c" stroke="#0c0c0c" stroke-width="0.3" stroke-linejoin="round">4</text>
<path d="M188.57999999999998 682.0V685.7" stroke="#262626" stroke-width="1.3"/>
<text transform="translate(188.58 699.60) scale(1.0000 0.9800)" font-family="'Liberation Sans', sans-serif" font-weight="bold" font-size="11.2" text-anchor="middle" fill="#0c0c0c" stroke="#0c0c0c" stroke-width="0.3" stroke-linejoin="round">5</text>
<path d="M232.94 682.0V685.7" stroke="#262626" stroke-width="1.3"/>
<text transform="translate(232.94 699.60) scale(1.0000 0.9800)" font-family="'Liberation Sans', sans-serif" font-weight="bold" font-size="11.2" text-anchor="middle" fill="#0c0c0c" stroke="#0c0c0c" stroke-width="0.3" stroke-linejoin="round">6</text>
<path d="M277.3 682.0V685.7" stroke="#262626" stroke-width="1.3"/>
<text transform="translate(277.30 699.60) scale(1.0000 0.9800)" font-family="'Liberation Sans', sans-serif" font-weight="bold" font-size="11.2" text-anchor="middle" fill="#0c0c0c" stroke="#0c0c0c" stroke-width="0.3" stroke-linejoin="round">7</text>
<text transform="translate(143.24 715.90) scale(1.1041 1.0000)" font-family="'Liberation Sans', sans-serif" font-weight="bold" font-size="16.6" text-anchor="start" fill="#0c0c0c" stroke="#0c0c0c" stroke-width="0.3" stroke-linejoin="round">log</text>
<text transform="translate(175.22 716.30) scale(1.0241 1.0000)" font-family="'Liberation Serif', serif" font-weight="bold" font-size="16.5" text-anchor="start" fill="#0c0c0c" stroke="#0c0c0c" stroke-width="0.5" stroke-linejoin="round">ω</text>
<text transform="translate(14.50 626.58) rotate(-90) scale(1.0048 1.0000)" font-family="'Liberation Sans', sans-serif" font-weight="bold" font-size="17.0" text-anchor="start" fill="#0c0c0c" stroke="#0c0c0c" stroke-width="0.3" stroke-linejoin="round">log</text>
<text transform="translate(15.00 595.15) rotate(-90) scale(0.8886 1.0000)" font-family="'Liberation Sans', sans-serif" font-weight="bold" font-size="16.0" text-anchor="start" fill="#0c0c0c" stroke="#0c0c0c" stroke-width="0.3" stroke-linejoin="round">σ</text>
<text transform="translate(20.20 584.28) rotate(-90) scale(0.9021 1.0000)" font-family="'Liberation Sans', sans-serif" font-weight="bold" font-size="18.3" text-anchor="start" fill="#0c0c0c" stroke="#0c0c0c" stroke-width="0.3" stroke-linejoin="round">ac</text>
<circle cx="78.79" cy="662.70" r="3.2" fill="url(#gg)"/>
<circle cx="79.59" cy="665.90" r="3.2" fill="url(#gg)"/>
<circle cx="82.29" cy="666.90" r="3.2" fill="url(#gg)"/>
<circle cx="85.00" cy="666.39" r="3.2" fill="url(#gg)"/>
<circle cx="87.71" cy="665.47" r="3.2" fill="url(#gg)"/>
<circle cx="90.72" cy="664.70" r="3.2" fill="url(#gg)"/>
<circle cx="104.26" cy="660.90" r="3.2" fill="url(#gg)"/>
<circle cx="112.07" cy="657.90" r="3.2" fill="url(#gg)"/>
<circle cx="117.61" cy="655.79" r="3.2" fill="url(#gg)"/>
<circle cx="121.91" cy="654.19" r="3.2" fill="url(#gg)"/>
<circle cx="125.43" cy="652.83" r="3.2" fill="url(#gg)"/>
<circle cx="128.40" cy="651.62" r="3.2" fill="url(#gg)"/>
<circle cx="130.97" cy="650.49" r="3.2" fill="url(#gg)"/>
<circle cx="133.24" cy="649.42" r="3.2" fill="url(#gg)"/>
<circle cx="135.27" cy="648.40" r="3.2" fill="url(#gg)"/>
<circle cx="148.62" cy="639.40" r="3.2" fill="url(#gg)"/>
<circle cx="156.43" cy="633.10" r="3.2" fill="url(#gg)"/>
<circle cx="161.97" cy="628.10" r="3.2" fill="url(#gg)"/>
<circle cx="166.27" cy="624.04" r="3.2" fill="url(#gg)"/>
<circle cx="169.79" cy="620.67" r="3.2" fill="url(#gg)"/>
<circle cx="172.76" cy="617.74" r="3.2" fill="url(#gg)"/>
<circle cx="175.33" cy="615.13" r="3.2" fill="url(#gg)"/>
<circle cx="177.60" cy="612.77" r="3.2" fill="url(#gg)"/>
<circle cx="179.63" cy="610.60" r="3.2" fill="url(#gg)"/>
<circle cx="192.98" cy="594.80" r="3.2" fill="url(#gg)"/>
<circle cx="200.79" cy="585.80" r="3.2" fill="url(#gg)"/>
<circle cx="206.33" cy="579.50" r="3.2" fill="url(#gg)"/>
<circle cx="210.63" cy="574.65" r="3.2" fill="url(#gg)"/>
<circle cx="214.15" cy="570.69" r="3.2" fill="url(#gg)"/>
<circle cx="217.12" cy="567.34" r="3.2" fill="url(#gg)"/>
<circle cx="219.69" cy="564.42" r="3.2" fill="url(#gg)"/>
<circle cx="221.96" cy="561.83" r="3.2" fill="url(#gg)"/>
<circle cx="223.99" cy="559.50" r="3.2" fill="url(#gg)"/>
<circle cx="237.34" cy="543.90" r="3.2" fill="url(#gg)"/>
<circle cx="245.15" cy="535.10" r="3.2" fill="url(#gg)"/>
<circle cx="250.69" cy="529.10" r="3.2" fill="url(#gg)"/>
<circle cx="254.99" cy="524.40" r="3.2" fill="url(#gg)"/>
<circle cx="258.51" cy="520.39" r="3.2" fill="url(#gg)"/>
<circle cx="261.48" cy="516.93" r="3.2" fill="url(#gg)"/>
<circle cx="264.05" cy="513.87" r="3.2" fill="url(#gg)"/>
<circle cx="266.32" cy="511.12" r="3.2" fill="url(#gg)"/>
<circle cx="268.35" cy="508.60" r="3.2" fill="url(#gg)"/>
<path d="M85.0 682.0L268.6 521.1" stroke="#111111" stroke-width="1.5" fill="none"/>
<text transform="translate(59.26 508.60) scale(1.0604 1.0000)" font-family="'Liberation Serif', serif" font-weight="bold" font-size="16.3" text-anchor="start" fill="#0c0c0c" stroke="#0c0c0c" stroke-width="0.3" stroke-linejoin="round">(e)</text>
<circle cx="95.8" cy="505.3" r="2.9" fill="url(#gg)"/>
<text transform="translate(108.71 509.50) scale(0.9951 1.0000)" font-family="'Liberation Sans', sans-serif" font-weight="bold" font-size="12.0" text-anchor="start" fill="#0c0c0c" stroke="#0c0c0c" stroke-width="0.3" stroke-linejoin="round">CuO:Na7%</text>
<path d="M341.8 488.0H563.8V682.1" fill="none" stroke="#303030" stroke-width="1.5"/>
<path d="M341.8 487.4V682.1H564.5" fill="none" stroke="#262626" stroke-width="1.45"/>
<path d="M338.20000000000005 488.0H341.8" stroke="#262626" stroke-width="1.3"/>
<text transform="translate(335.30 492.48)" font-family="'Liberation Sans', sans-serif" font-weight="bold" font-size="12.5" text-anchor="end" fill="#0c0c0c" stroke="#0c0c0c" stroke-width="0.3" stroke-linejoin="round">0.80</text>
<path d="M338.20000000000005 532.3H341.8" stroke="#262626" stroke-width="1.3"/>
<text transform="translate(335.30 536.77)" font-family="'Liberation Sans', sans-serif" font-weight="bold" font-size="12.5" text-anchor="end" fill="#0c0c0c" stroke="#0c0c0c" stroke-width="0.3" stroke-linejoin="round">0.72</text>
<path d="M338.20000000000005 576.6H341.8" stroke="#262626" stroke-width="1.3"/>
<text transform="translate(335.30 581.08)" font-family="'Liberation Sans', sans-serif" font-weight="bold" font-size="12.5" text-anchor="end" fill="#0c0c0c" stroke="#0c0c0c" stroke-width="0.3" stroke-linejoin="round">0.64</text>
<path d="M338.20000000000005 620.9H341.8" stroke="#262626" stroke-width="1.3"/>
<text transform="translate(335.30 625.38)" font-family="'Liberation Sans', sans-serif" font-weight="bold" font-size="12.5" text-anchor="end" fill="#0c0c0c" stroke="#0c0c0c" stroke-width="0.3" stroke-linejoin="round">0.56</text>
<path d="M338.20000000000005 665.2H341.8" stroke="#262626" stroke-width="1.3"/>
<text transform="translate(335.30 669.68)" font-family="'Liberation Sans', sans-serif" font-weight="bold" font-size="12.5" text-anchor="end" fill="#0c0c0c" stroke="#0c0c0c" stroke-width="0.3" stroke-linejoin="round">0.48</text>
<path d="M354.9 682.1V685.8000000000001" stroke="#262626" stroke-width="1.3"/>
<text transform="translate(354.90 701.60) scale(1.0000 0.9600)" font-family="'Liberation Sans', sans-serif" font-weight="bold" font-size="12.3" text-anchor="middle" fill="#0c0c0c" stroke="#0c0c0c" stroke-width="0.3" stroke-linejoin="round">0</text>
<path d="M380.97999999999996 682.1V685.8000000000001" stroke="#262626" stroke-width="1.3"/>
<text transform="translate(380.98 701.60) scale(1.0000 0.9600)" font-family="'Liberation Sans', sans-serif" font-weight="bold" font-size="12.3" text-anchor="middle" fill="#0c0c0c" stroke="#0c0c0c" stroke-width="0.3" stroke-linejoin="round">1</text>
<path d="M407.05999999999995 682.1V685.8000000000001" stroke="#262626" stroke-width="1.3"/>
<text transform="translate(407.06 701.60) scale(1.0000 0.9600)" font-family="'Liberation Sans', sans-serif" font-weight="bold" font-size="12.3" text-anchor="middle" fill="#0c0c0c" stroke="#0c0c0c" stroke-width="0.3" stroke-linejoin="round">2</text>
<path d="M433.14 682.1V685.8000000000001" stroke="#262626" stroke-width="1.3"/>
<text transform="translate(433.14 701.60) scale(1.0000 0.9600)" font-family="'Liberation Sans', sans-serif" font-weight="bold" font-size="12.3" text-anchor="middle" fill="#0c0c0c" stroke="#0c0c0c" stroke-width="0.3" stroke-linejoin="round">3</text>
<path d="M459.21999999999997 682.1V685.8000000000001" stroke="#262626" stroke-width="1.3"/>
<text transform="translate(459.22 701.60) scale(1.0000 0.9600)" font-family="'Liberation Sans', sans-serif" font-weight="bold" font-size="12.3" text-anchor="middle" fill="#0c0c0c" stroke="#0c0c0c" stroke-width="0.3" stroke-linejoin="round">4</text>
<path d="M485.29999999999995 682.1V685.8000000000001" stroke="#262626" stroke-width="1.3"/>
<text transform="translate(485.30 701.60) scale(1.0000 0.9600)" font-family="'Liberation Sans', sans-serif" font-weight="bold" font-size="12.3" text-anchor="middle" fill="#0c0c0c" stroke="#0c0c0c" stroke-width="0.3" stroke-linejoin="round">5</text>
<path d="M511.38 682.1V685.8000000000001" stroke="#262626" stroke-width="1.3"/>
<text transform="translate(511.38 701.60) scale(1.0000 0.9600)" font-family="'Liberation Sans', sans-serif" font-weight="bold" font-size="12.3" text-anchor="middle" fill="#0c0c0c" stroke="#0c0c0c" stroke-width="0.3" stroke-linejoin="round">6</text>
<path d="M537.46 682.1V685.8000000000001" stroke="#262626" stroke-width="1.3"/>
<text transform="translate(537.46 701.60) scale(1.0000 0.9600)" font-family="'Liberation Sans', sans-serif" font-weight="bold" font-size="12.3" text-anchor="middle" fill="#0c0c0c" stroke="#0c0c0c" stroke-width="0.3" stroke-linejoin="round">7</text>
<path d="M563.54 682.1V685.8000000000001" stroke="#262626" stroke-width="1.3"/>
<text transform="translate(563.54 701.60) scale(1.0000 0.9600)" font-family="'Liberation Sans', sans-serif" font-weight="bold" font-size="12.3" text-anchor="middle" fill="#0c0c0c" stroke="#0c0c0c" stroke-width="0.3" stroke-linejoin="round">8</text>
<text transform="translate(350.31 720.00) scale(1.0131 1.0000)" font-family="'Liberation Sans', sans-serif" font-weight="bold" font-size="16.3" text-anchor="start" fill="#0c0c0c" stroke="#0c0c0c" stroke-width="0.3" stroke-linejoin="round">Na concentration (mole%)</text>
<text transform="translate(304.50 631.91) rotate(-90) scale(1.0020 1.0000)" font-family="'Liberation Sans', sans-serif" font-weight="normal" font-size="17.2" text-anchor="start" fill="#0c0c0c" stroke="#0c0c0c" stroke-width="0.25" stroke-linejoin="round">Exponent (n)</text>
<path d="M358.55 645.41L358.68 645.10L358.81 644.79L358.94 644.48L359.07 644.17L359.20 643.86L359.33 643.56L359.46 643.25L359.59 642.94L359.72 642.63L359.86 642.32L359.99 642.01L360.12 641.71L360.25 641.40L360.38 641.09L360.51 640.78L360.64 640.48L360.77 640.17L360.90 639.86L361.03 639.56L361.16 639.25L361.29 638.95L361.42 638.64L361.55 638.34L361.68 638.03L361.81 637.73L361.94 637.42L362.07 637.12L362.20 636.81L362.33 636.51L362.46 636.21L362.59 635.90L362.72 635.60L362.85 635.30L362.98 635.00L363.12 634.70L363.25 634.39L363.38 634.09L363.51 633.79L363.64 633.49L363.77 633.19L363.90 632.89L364.03 632.59L364.16 632.29L364.29 632.00L364.42 631.70L364.55 631.40L364.68 631.10L364.81 630.81L364.94 630.51L365.07 630.21L365.20 629.92L365.33 629.62L365.46 629.33L365.59 629.03L365.72 628.74L365.85 628.45L365.98 628.15L366.11 627.86L366.24 627.57L366.38 627.28L366.51 626.98L366.64 626.69L366.77 626.40L366.90 626.11L367.03 625.82L367.16 625.54L367.29 625.25L367.42 624.96L367.55 624.67L367.68 624.38L367.81 624.10L367.94 623.81L368.07 623.53L368.20 623.24L368.33 622.96L368.46 622.67L368.59 622.39L368.72 622.11L368.85 621.83L368.98 621.54L369.11 621.26L369.24 620.98L369.37 620.70L369.50 620.42L369.64 620.15L369.77 619.87L369.90 619.59L370.03 619.31L370.16 619.04L370.29 618.76L370.42 618.49L370.55 618.21L370.68 617.94L370.81 617.67L370.94 617.39L371.07 617.12L371.20 616.85L371.33 616.58L371.46 616.31L371.59 616.04L371.72 615.77L371.85 615.50L371.98 615.24L372.11 614.97L372.24 614.70L372.37 614.44L372.50 614.17L372.63 613.91L372.76 613.65L372.90 613.39L373.03 613.12L373.16 612.86L373.29 612.60L373.42 612.34L373.55 612.09L373.68 611.83L373.81 611.57L373.94 611.31L374.07 611.06L374.20 610.80L374.33 610.55L374.46 610.30L374.59 610.04L374.72 609.79L374.85 609.54M384.37 593.72L384.63 593.36L384.89 593.00L385.15 592.65L385.41 592.30L385.67 591.96L385.94 591.62L386.20 591.28L386.46 590.95L386.72 590.62L386.98 590.29L387.24 589.97L387.50 589.65L387.76 589.33L388.02 589.02L388.28 588.71L388.54 588.41L388.80 588.11L389.06 587.81L389.33 587.52L389.59 587.22L389.85 586.94L390.11 586.65L390.37 586.37L390.63 586.09L390.89 585.82L391.15 585.55L391.41 585.28L391.67 585.01L391.93 584.75L392.19 584.49L392.46 584.23L392.72 583.98L392.98 583.73L393.24 583.48L393.50 583.24L393.76 583.00L394.02 582.76L394.28 582.52L394.54 582.29L394.80 582.06L395.06 581.83L395.32 581.61L395.58 581.39L395.85 581.17L396.11 580.95L396.37 580.74L396.63 580.53L396.89 580.32L397.15 580.12L397.41 579.91L397.67 579.71L397.93 579.51L398.19 579.32L398.45 579.12L398.71 578.93L398.98 578.75L399.24 578.56L399.50 578.38L399.76 578.19L400.02 578.02L400.28 577.84L400.54 577.66L400.80 577.49L401.06 577.32L401.32 577.15L401.58 576.99L401.84 576.82L402.10 576.66L402.37 576.50L402.63 576.34L402.89 576.19L403.15 576.04L403.41 575.88L403.67 575.73L403.93 575.59L404.19 575.44L404.45 575.30L404.71 575.15L404.97 575.01L405.23 574.87L405.50 574.74L405.76 574.60L406.02 574.47L406.28 574.34L406.54 574.20L406.80 574.08L407.06 573.95L407.32 573.82L407.58 573.70L407.84 573.58L408.10 573.45L408.36 573.33L408.62 573.22L408.89 573.10L409.15 572.98L409.41 572.87L409.67 572.76L409.93 572.64L410.19 572.53L410.45 572.42L410.71 572.32L410.97 572.21L411.23 572.10L411.49 572.00L411.75 571.89L412.02 571.79L412.28 571.69L412.54 571.59L412.80 571.49L413.06 571.39L413.32 571.29L413.58 571.20L413.84 571.10L414.10 571.01L414.36 570.91L414.62 570.82L414.88 570.73L415.14 570.64L415.41 570.54L415.67 570.45L415.93 570.36L416.19 570.27L416.45 570.19L416.71 570.10L416.97 570.01L417.23 569.92L417.49 569.84L417.75 569.75L418.01 569.67L418.27 569.58L418.54 569.50L418.80 569.41L419.06 569.33L419.32 569.25L419.58 569.16L419.84 569.08L420.10 569.00L420.36 568.91L420.62 568.83L420.88 568.75L421.14 568.67L421.40 568.59L421.66 568.50L421.93 568.42L422.19 568.34L422.45 568.26L422.71 568.18L422.97 568.10L423.23 568.01L423.49 567.93L423.75 567.85L424.01 567.77L424.27 567.68L424.53 567.60L424.79 567.52L425.06 567.44L425.32 567.35L425.58 567.27L425.84 567.19L426.10 567.10L426.36 567.02L426.62 566.93L426.88 566.84L427.14 566.76L427.40 566.67M440.18 561.37L440.44 561.24L440.70 561.11L440.96 560.97L441.22 560.84L441.49 560.70L441.75 560.57L442.01 560.43L442.27 560.29L442.53 560.15L442.79 560.01L443.05 559.87L443.31 559.73L443.57 559.59L443.83 559.45L444.09 559.30L444.35 559.16L444.62 559.01L444.88 558.87L445.14 558.72L445.40 558.58L445.66 558.43L445.92 558.28L446.18 558.13L446.44 557.98L446.70 557.83L446.96 557.68L447.22 557.53L447.48 557.38L447.74 557.22L448.01 557.07L448.27 556.92L448.53 556.76L448.79 556.61L449.05 556.45L449.31 556.29L449.57 556.14L449.83 555.98L450.09 555.82L450.35 555.66L450.61 555.50L450.87 555.34L451.14 555.18L451.40 555.02L451.66 554.86L451.92 554.70L452.18 554.54L452.44 554.38L452.70 554.21L452.96 554.05L453.22 553.89L453.48 553.72L453.74 553.56L454.00 553.39L454.26 553.23L454.53 553.06L454.79 552.90L455.05 552.73L455.31 552.56L455.57 552.40L455.83 552.23L456.09 552.06L456.35 551.89L456.61 551.73L456.87 551.56L457.13 551.39L457.39 551.22L457.66 551.05L457.92 550.88L458.18 550.71L458.44 550.54L458.70 550.37L458.96 550.20L459.22 550.03L459.48 549.86L459.74 549.69L460.00 549.51L460.26 549.34L460.52 549.17L460.78 549.00L461.05 548.83L461.31 548.65L461.57 548.48L461.83 548.31L462.09 548.14L462.35 547.96L462.61 547.79L462.87 547.62L463.13 547.45L463.39 547.27L463.65 547.10L463.91 546.93L464.18 546.75L464.44 546.58L464.70 546.41L464.96 546.23L465.22 546.06L465.48 545.89L465.74 545.71L466.00 545.54L466.26 545.37L466.52 545.19L466.78 545.02L467.04 544.85L467.30 544.67L467.57 544.50L467.83 544.33L468.09 544.15L468.35 543.98L468.61 543.81L468.87 543.64L469.13 543.46L469.39 543.29L469.65 543.12L469.91 542.95L470.17 542.78L470.43 542.61L470.70 542.43L470.96 542.26L471.22 542.09L471.48 541.92L471.74 541.75L472.00 541.58L472.26 541.41L472.52 541.24L472.78 541.07L473.04 540.90L473.30 540.73L473.56 540.56L473.82 540.39L474.09 540.23L474.35 540.06L474.61 539.89L474.87 539.72L475.13 539.56L475.39 539.39L475.65 539.22L475.91 539.06L476.17 538.89L476.43 538.73L476.69 538.56L476.95 538.40L477.22 538.23L477.48 538.07L477.74 537.91L478.00 537.75L478.26 537.58L478.52 537.42L478.78 537.26M492.86 529.44L493.12 529.32L493.38 529.19L493.65 529.06L493.91 528.94L494.17 528.81L494.43 528.69L494.69 528.57L494.95 528.44L495.21 528.32L495.47 528.20L495.73 528.08L495.99 527.96L496.25 527.84L496.51 527.72L496.78 527.60L497.04 527.48L497.30 527.36L497.56 527.24L497.82 527.13L498.08 527.01L498.34 526.89L498.60 526.78L498.86 526.66L499.12 526.55L499.38 526.43L499.64 526.32L499.90 526.21L500.17 526.10L500.43 525.98L500.69 525.87L500.95 525.76L501.21 525.65L501.47 525.54L501.73 525.43L501.99 525.32L502.25 525.21L502.51 525.11L502.77 525.00L503.03 524.89L503.30 524.79L503.56 524.68L503.82 524.57L504.08 524.47L504.34 524.36L504.60 524.26L504.86 524.16L505.12 524.05L505.38 523.95L505.64 523.85L505.90 523.74L506.16 523.64L506.42 523.54L506.69 523.44L506.95 523.34L507.21 523.24L507.47 523.14L507.73 523.04L507.99 522.94L508.25 522.84L508.51 522.74L508.77 522.65L509.03 522.55L509.29 522.45L509.55 522.36L509.82 522.26L510.08 522.16L510.34 522.07L510.60 521.97L510.86 521.88L511.12 521.78L511.38 521.69L511.64 521.60L511.90 521.50L512.16 521.41L512.42 521.32L512.68 521.23L512.94 521.13L513.21 521.04L513.47 520.95L513.73 520.86L513.99 520.77L514.25 520.68L514.51 520.59L514.77 520.50L515.03 520.41L515.29 520.32L515.55 520.23L515.81 520.14L516.07 520.05L516.34 519.97L516.60 519.88L516.86 519.79L517.12 519.70L517.38 519.62L517.64 519.53L517.90 519.44L518.16 519.36L518.42 519.27L518.68 519.19L518.94 519.10L519.20 519.02L519.46 518.93L519.73 518.85L519.99 518.76L520.25 518.68L520.51 518.60L520.77 518.51L521.03 518.43L521.29 518.35L521.55 518.26L521.81 518.18L522.07 518.10L522.33 518.01L522.59 517.93L522.86 517.85L523.12 517.77L523.38 517.69L523.64 517.61L523.90 517.52L524.16 517.44L524.42 517.36L524.68 517.28L524.94 517.20L525.20 517.12L525.46 517.04L525.72 516.96L525.98 516.88L526.25 516.80L526.51 516.72L526.77 516.64L527.03 516.56L527.29 516.48L527.55 516.41L527.81 516.33L528.07 516.25L528.33 516.17L528.59 516.09L528.85 516.01L529.11 515.93L529.38 515.86L529.64 515.78L529.90 515.70L530.16 515.62L530.42 515.55L530.68 515.47L530.94 515.39L531.20 515.31" fill="none" stroke="#3c3c3c" stroke-width="1.0"/>
<path d="M354.90 643.12V665.12M353.10 643.12h3.6M353.10 665.12h3.6" stroke="#d2d296" stroke-width="1.0" fill="none"/>
<polygon points="354.90,649.73 358.71,651.92 358.71,656.33 354.90,658.52 351.09,656.33 351.09,651.92" fill="#7c7c10"/>
<path d="M380.98 587.75V609.75M379.18 587.75h3.6M379.18 609.75h3.6" stroke="#aeaee2" stroke-width="1.0" fill="none"/>
<polygon points="380.98,594.35 384.79,596.55 384.79,600.95 380.98,603.15 377.17,600.95 377.17,596.55" fill="#00007c"/>
<path d="M433.14 553.58V575.58M431.34 553.58h3.6M431.34 575.58h3.6" stroke="#e4aec0" stroke-width="1.0" fill="none"/>
<polygon points="433.14,560.18 436.95,562.38 436.95,566.78 433.14,568.98 429.33,566.78 429.33,562.38" fill="#800040"/>
<path d="M485.30 522.41V544.41M483.50 522.41h3.6M483.50 544.41h3.6" stroke="#e4aeb4" stroke-width="1.0" fill="none"/>
<polygon points="485.30,529.01 489.11,531.21 489.11,535.61 485.30,537.81 481.49,535.61 481.49,531.21" fill="#80002c"/>
<path d="M537.46 502.47V524.47M535.66 502.47h3.6M535.66 524.47h3.6" stroke="#9ad69a" stroke-width="1.0" fill="none"/>
<polygon points="537.46,509.07 541.27,511.27 541.27,515.67 537.46,517.87 533.65,515.67 533.65,511.27" fill="#008000"/>
<text transform="translate(348.64 508.30) scale(1.0819 1.0000)" font-family="'Liberation Serif', serif" font-weight="bold" font-size="16.3" text-anchor="start" fill="#0c0c0c" stroke="#0c0c0c" stroke-width="0.3" stroke-linejoin="round">(f)</text>
<text transform="translate(370.83 508.20) scale(1.0326 1.0000)" font-family="'Liberation Sans', sans-serif" font-weight="bold" font-size="11.7" text-anchor="start" fill="#0c0c0c" stroke="#0c0c0c" stroke-width="0.3" stroke-linejoin="round">--Exponent (n)</text>
</g>
</svg>
</body></html>
